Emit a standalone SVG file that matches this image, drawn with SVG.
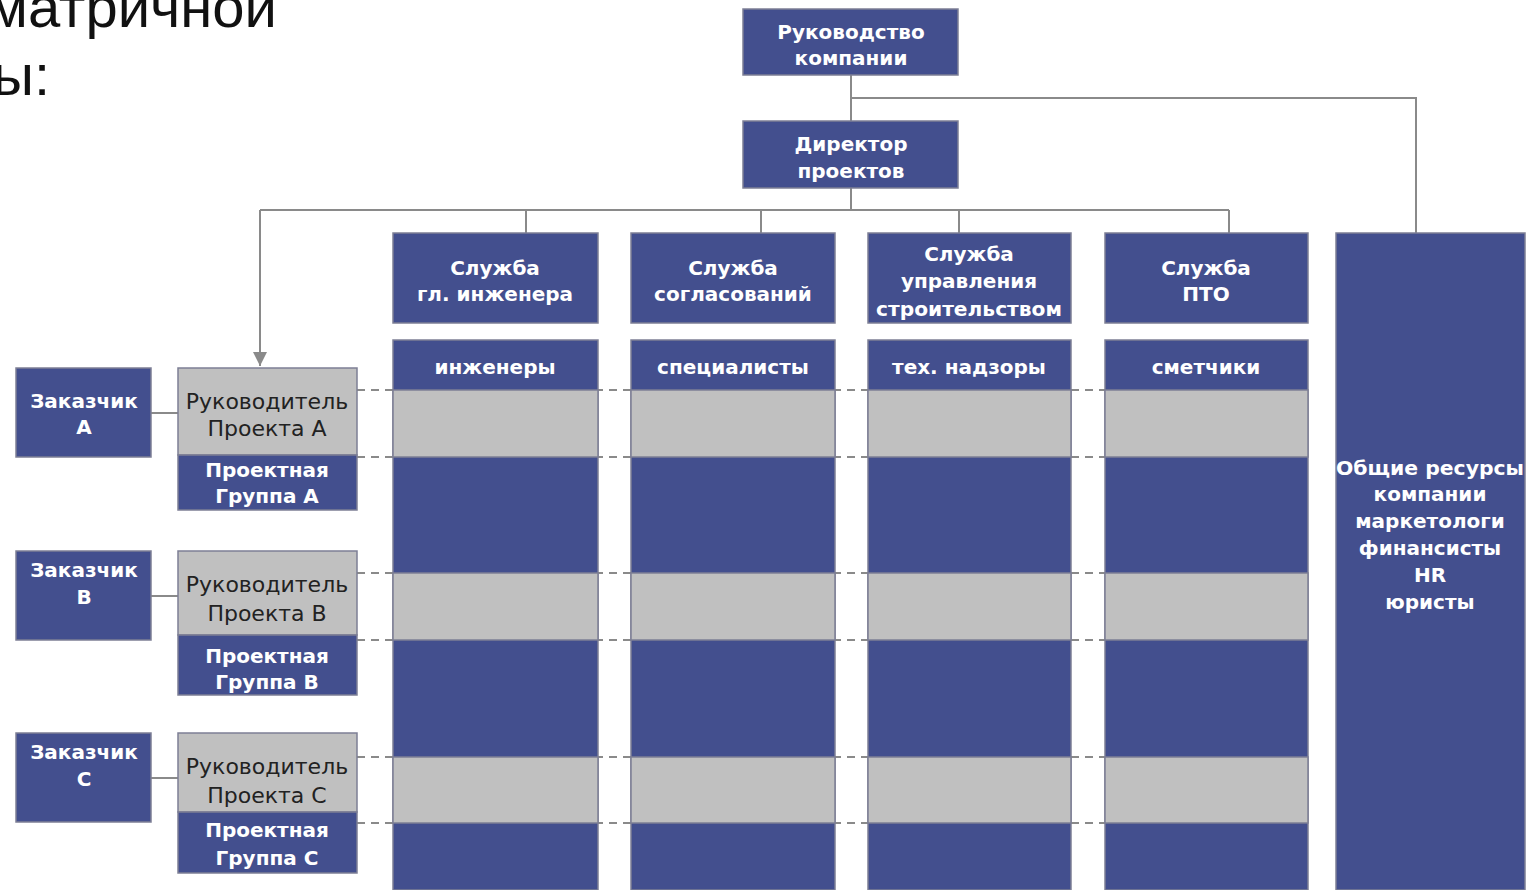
<svg xmlns="http://www.w3.org/2000/svg" width="1527" height="890" viewBox="0 0 1527 890">
<style>
.b{fill:#434f8e;stroke:#7d7f95;stroke-width:1.5}
.g{fill:#c0c0c0;stroke:#7d7f95;stroke-width:1.5}
.w{fill:#ffffff;font-family:"DejaVu Sans",sans-serif;font-weight:bold;font-size:20px;text-anchor:middle}
.d{fill:#222222;font-family:"DejaVu Sans",sans-serif;font-size:22px;text-anchor:middle}
.ln{stroke:#8a8a8a;stroke-width:2;fill:none}
.ds{stroke:#8a8a8a;stroke-width:2;fill:none;stroke-dasharray:8 6}
.t{fill:#111111;font-family:"Liberation Sans",Arial,sans-serif;font-size:58px}
</style>
<defs>
<marker id="ah" markerWidth="16" markerHeight="14" refX="14" refY="7" orient="auto" markerUnits="userSpaceOnUse">
<path d="M0,0 L14,7 L0,14 Z" fill="#8a8a8a"/>
</marker>
</defs>
<rect width="1527" height="890" fill="#ffffff"/>
<g id="title">
<text class="t" x="277" y="27" text-anchor="end">матричной</text>
<text class="t" x="50" y="95" text-anchor="end">ы:</text>
</g>
<g id="connectors">
<path class="ln" d="M851,75 V121 M851,98 H1416 V233 M851,188 V210 M260,210 H1229 M526,210 V233 M761,210 V233 M959,210 V233 M1229,210 V233"/>
<path class="ln" d="M260,210 V366" marker-end="url(#ah)"/>
<path class="ln" d="M151,413 H178 M151,596 H178 M151,778 H178"/>
<path class="ds" d="M357,390 H1105 M357,457 H1105 M357,573 H1105 M357,640 H1105 M357,757 H1105 M357,823 H1105"/>
</g>
<g id="n-rukovodstvo"><rect class="b" x="743" y="9" width="215" height="66"/><text class="w" x="851" y="39">Руководство</text><text class="w" x="851" y="65">компании</text></g>
<g id="n-director"><rect class="b" x="743" y="121" width="215" height="67"/><text class="w" x="851" y="151">Директор</text><text class="w" x="851" y="178">проектов</text></g>
<g id="n-s1"><rect class="b" x="393" y="233" width="205" height="90"/><text class="w" x="495" y="275">Служба</text><text class="w" x="495" y="301">гл. инженера</text></g>
<g id="n-s2"><rect class="b" x="631" y="233" width="204" height="90"/><text class="w" x="733" y="275">Служба</text><text class="w" x="733" y="301">согласований</text></g>
<g id="n-s3"><rect class="b" x="868" y="233" width="203" height="90"/><text class="w" x="969" y="261">Служба</text><text class="w" x="969" y="288">управления</text><text class="w" x="969" y="316" textLength="186" lengthAdjust="spacingAndGlyphs">строительством</text></g>
<g id="n-s4"><rect class="b" x="1105" y="233" width="203" height="90"/><text class="w" x="1206" y="275">Служба</text><text class="w" x="1206" y="301">ПТО</text></g>
<g id="n-common"><rect class="b" x="1336" y="233" width="189" height="657"/>
<text class="w" x="1430" y="475" textLength="188" lengthAdjust="spacingAndGlyphs">Общие ресурсы</text><text class="w" x="1430" y="501">компании</text><text class="w" x="1430" y="528">маркетологи</text><text class="w" x="1430" y="555">финансисты</text><text class="w" x="1430" y="582">HR</text><text class="w" x="1430" y="609">юристы</text></g>
<g id="col1"><rect class="b" x="393" y="340" width="205" height="550"/><rect class="g" x="393" y="390" width="205" height="67"/><rect class="g" x="393" y="573" width="205" height="67"/><rect class="g" x="393" y="757" width="205" height="66"/><text class="w" x="495" y="374">инженеры</text></g>
<g id="col2"><rect class="b" x="631" y="340" width="204" height="550"/><rect class="g" x="631" y="390" width="204" height="67"/><rect class="g" x="631" y="573" width="204" height="67"/><rect class="g" x="631" y="757" width="204" height="66"/><text class="w" x="733" y="374">специалисты</text></g>
<g id="col3"><rect class="b" x="868" y="340" width="203" height="550"/><rect class="g" x="868" y="390" width="203" height="67"/><rect class="g" x="868" y="573" width="203" height="67"/><rect class="g" x="868" y="757" width="203" height="66"/><text class="w" x="969" y="374">тех. надзоры</text></g>
<g id="col4"><rect class="b" x="1105" y="340" width="203" height="550"/><rect class="g" x="1105" y="390" width="203" height="67"/><rect class="g" x="1105" y="573" width="203" height="67"/><rect class="g" x="1105" y="757" width="203" height="66"/><text class="w" x="1206" y="374">сметчики</text></g>
<g id="n-custA"><rect class="b" x="16" y="368" width="135" height="89"/><text class="w" x="84" y="408">Заказчик</text><text class="w" x="84" y="434">A</text></g>
<g id="n-pmA"><rect class="g" x="178" y="368" width="179" height="87"/><text class="d" x="267" y="409">Руководитель</text><text class="d" x="267" y="436">Проекта A</text></g>
<g id="n-grA"><rect class="b" x="178" y="455" width="179" height="55"/><text class="w" x="267" y="477">Проектная</text><text class="w" x="267" y="503">Группа A</text></g>
<g id="n-custB"><rect class="b" x="16" y="551" width="135" height="89"/><text class="w" x="84" y="577">Заказчик</text><text class="w" x="84" y="604">B</text></g>
<g id="n-pmB"><rect class="g" x="178" y="551" width="179" height="84"/><text class="d" x="267" y="592">Руководитель</text><text class="d" x="267" y="621">Проекта B</text></g>
<g id="n-grB"><rect class="b" x="178" y="635" width="179" height="60"/><text class="w" x="267" y="663">Проектная</text><text class="w" x="267" y="689">Группа B</text></g>
<g id="n-custC"><rect class="b" x="16" y="733" width="135" height="89"/><text class="w" x="84" y="759">Заказчик</text><text class="w" x="84" y="786">C</text></g>
<g id="n-pmC"><rect class="g" x="178" y="733" width="179" height="79"/><text class="d" x="267" y="774">Руководитель</text><text class="d" x="267" y="803">Проекта C</text></g>
<g id="n-grC"><rect class="b" x="178" y="812" width="179" height="61"/><text class="w" x="267" y="837">Проектная</text><text class="w" x="267" y="865">Группа C</text></g>
</svg>
